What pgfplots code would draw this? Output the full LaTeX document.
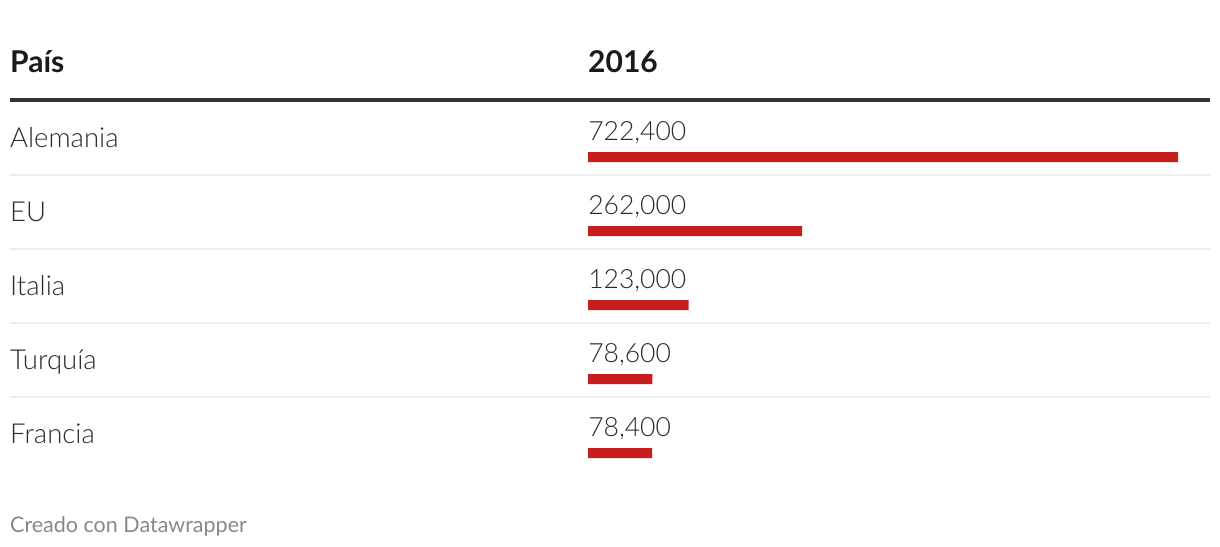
\documentclass[border=0pt]{standalone}
\usepackage{pgfplots}
\usepackage{pgfplotstable}
\pgfplotsset{compat=1.18}
\usepackage{fontspec}
\setmainfont{Lato}[UprightFont=* Light, BoldFont=* Bold]
\newfontfamily\regfont{Lato}
\definecolor{barred}{HTML}{C71E1D}
\definecolor{headtxt}{HTML}{1A1A1A}
\definecolor{bodytxt}{HTML}{2A2A2A}
\definecolor{rule}{HTML}{333333}
\definecolor{sep}{HTML}{EEEEEE}
\definecolor{foot}{HTML}{888888}

\pgfplotstableread{
row v
0 722400
1 262000
2 123000
3 78600
4 78400
}\datatable

\begin{document}
\begin{tikzpicture}
\path[use as bounding box] (0,0) rectangle (1220pt,546pt);
% rules
\draw[line width=4pt, rule] (10pt,446pt) -- (1210pt,446pt);
\foreach \yy in {371,297,223,149}
  \draw[line width=2pt, sep] (10pt,\yy pt) -- (1210pt,\yy pt);
\begin{axis}[
  at={(0,0)}, anchor=south west,
  scale only axis, width=1220pt, height=546pt,
  hide axis, clip=false,
  xmin=-719944, xmax=773818,
  ymin=-2.1216, ymax=5.2568, y dir=reverse,
  /pgf/number format/assume math mode=true,
]
\addplot[xbar, bar width=10pt, fill=barred, draw=none] table[x=v, y=row] \datatable;
\addplot[draw=none, mark=none,
  nodes near coords={\pgfmathprintnumber[fixed,precision=0,1000 sep={,}]{\pgfplotspointmeta}},
  point meta=\thisrow{v},
  every node near coord/.append style={anchor=base west, inner sep=0pt, yshift=17pt,
    font=\fontsize{26.5pt}{30pt}\selectfont, text=bodytxt}]
  table[x expr=0, y=row] \datatable;
\end{axis}
% header
\node[anchor=base west, inner sep=0pt, text=headtxt, font=\fontsize{30pt}{34pt}\selectfont\bfseries] at (10pt,473pt) {País};
\node[anchor=base west, inner sep=0pt, text=headtxt, font=\fontsize{30pt}{34pt}\selectfont\bfseries] at (588pt,473pt) {2016};
% row labels
\foreach \lab [count=\i from 0] in {Alemania,EU,Italia,Turquía,Francia}
  \node[anchor=base west, inner sep=0pt, text=bodytxt, font=\fontsize{27.5pt}{31pt}\selectfont] at (10pt,{(398-74*\i)*1pt}) {\lab};
% footer
\node[anchor=base west, inner sep=0pt, text=foot, font=\fontsize{21.5pt}{25pt}\selectfont\regfont] at (10pt,14pt) {Creado con Datawrapper};
\end{tikzpicture}
\end{document}
